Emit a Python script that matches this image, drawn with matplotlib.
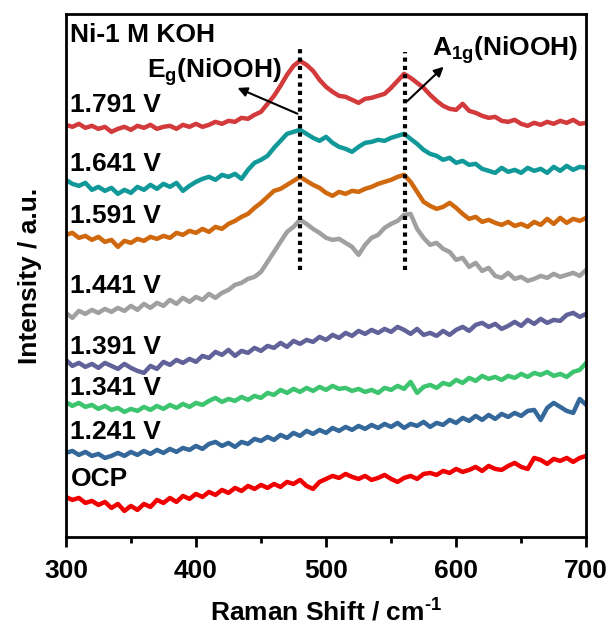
import numpy as np
import matplotlib.pyplot as plt

plt.rcParams['font.family'] = ['Liberation Sans', 'DejaVu Sans']
plt.rcParams['font.weight'] = 'bold'
plt.rcParams['mathtext.fontset'] = 'custom'
plt.rcParams['mathtext.rm'] = 'Liberation Sans:bold'
plt.rcParams['mathtext.it'] = 'Liberation Sans:bold'
plt.rcParams['mathtext.bf'] = 'Liberation Sans:bold'

# Raman shift, cm-1 (every 5 cm-1)
shift = np.arange(300, 701, 5)

# stacked spectra (a.u., already offset)
v1791 = [412, 410, 413, 409, 411, 408, 410, 405, 408, 410, 407, 411, 409, 412, 408, 410, 411, 408, 412, 410,
         413, 410, 412, 415, 413, 416, 415, 419, 418, 422, 425, 433, 441, 451, 462, 471, 476, 472, 466, 457,
         450, 445, 441, 440, 437, 434, 438, 439, 441, 443, 449, 456, 463, 459, 454, 449, 442, 436, 431, 428,
         427, 433, 426, 424, 421, 419, 420, 416, 415, 417, 413, 411, 414, 412, 415, 413, 416, 414, 417, 413, 414]
v1641 = [357, 353, 351, 354, 347, 350, 346, 349, 343, 347, 344, 350, 347, 352, 348, 353, 350, 354, 346, 351,
         355, 358, 360, 357, 362, 360, 363, 358, 367, 374, 377, 381, 389, 396, 403, 405, 407, 403, 399, 396,
         400, 394, 390, 388, 385, 390, 394, 395, 397, 396, 399, 401, 403, 398, 393, 387, 383, 381, 377, 379,
         374, 376, 372, 373, 368, 366, 364, 369, 365, 367, 364, 369, 366, 368, 364, 370, 366, 371, 367, 370, 369]
v1591 = [302, 304, 299, 301, 297, 300, 295, 297, 290, 296, 294, 298, 296, 300, 298, 301, 299, 304, 302, 306,
         304, 308, 305, 310, 308, 313, 316, 320, 323, 329, 334, 340, 346, 348, 352, 356, 360, 356, 352, 349,
         344, 341, 345, 343, 346, 345, 348, 350, 353, 355, 357, 360, 362, 355, 345, 335, 331, 328, 330, 334,
         329, 323, 318, 320, 315, 317, 314, 312, 315, 311, 313, 310, 315, 312, 318, 313, 319, 314, 318, 316, 319]
v1441 = [224, 219, 226, 223, 227, 224, 228, 225, 229, 226, 231, 227, 233, 229, 234, 231, 237, 233, 239, 235,
         240, 237, 243, 239, 244, 247, 252, 254, 258, 260, 265, 275, 285, 295, 305, 310, 317, 313, 308, 304,
         299, 297, 298, 294, 290, 282, 292, 299, 302, 309, 313, 316, 322, 323, 308, 299, 292, 294, 288, 285,
         277, 279, 270, 274, 266, 269, 261, 259, 264, 258, 260, 256, 258, 261, 259, 263, 260, 262, 264, 261, 267]
v1391 = [177, 171, 174, 170, 173, 169, 174, 171, 168, 173, 169, 166, 164, 171, 168, 175, 172, 177, 174, 178,
         175, 181, 179, 185, 182, 187, 181, 186, 184, 189, 186, 191, 189, 194, 190, 196, 193, 197, 195, 200,
         197, 202, 199, 204, 201, 206, 203, 207, 204, 208, 205, 210, 207, 203, 208, 202, 204, 201, 206, 202,
         207, 210, 206, 212, 214, 210, 213, 208, 211, 215, 211, 217, 213, 218, 214, 217, 216, 222, 224, 220, 223]
v1341 = [135, 131, 134, 130, 132, 128, 131, 127, 129, 125, 128, 126, 130, 127, 131, 128, 132, 129, 133, 130,
         134, 132, 136, 139, 135, 138, 136, 140, 137, 141, 139, 144, 142, 147, 144, 148, 145, 149, 146, 150,
         147, 151, 148, 149, 146, 148, 145, 147, 144, 149, 147, 151, 148, 155, 144, 150, 152, 149, 154, 152,
         157, 154, 159, 156, 161, 158, 160, 157, 161, 159, 163, 160, 164, 162, 165, 161, 163, 160, 165, 167, 174]
v1241 = [84, 86, 82, 85, 81, 83, 79, 81, 84, 81, 85, 82, 86, 83, 87, 84, 88, 85, 89, 87,
         91, 88, 93, 95, 91, 94, 90, 95, 93, 98, 96, 100, 97, 102, 99, 104, 101, 106, 103, 107,
         104, 109, 106, 110, 107, 111, 108, 112, 109, 113, 110, 114, 109, 113, 111, 115, 110, 114, 112, 117,
         114, 119, 116, 121, 117, 122, 118, 123, 120, 124, 121, 126, 127, 117, 129, 134, 130, 126, 124, 138, 132]
ocp = [40, 37, 39, 34, 36, 32, 35, 29, 33, 26, 31, 27, 33, 30, 37, 34, 39, 35, 41, 38,
       43, 40, 45, 42, 47, 44, 49, 46, 51, 48, 52, 49, 53, 50, 55, 53, 57, 51, 48, 55,
       58, 61, 59, 63, 60, 58, 61, 57, 59, 62, 58, 55, 59, 61, 58, 63, 64, 62, 66, 64,
       68, 65, 67, 70, 66, 71, 68, 67, 71, 74, 70, 68, 79, 77, 73, 78, 76, 79, 75, 79, 81]

spectra = [v1791, v1641, v1591, v1441, v1391, v1341, v1241, ocp]
labels = ['1.791 V', '1.641 V', '1.591 V', '1.441 V', '1.391 V', '1.341 V', '1.241 V', 'OCP']
label_y = [432, 373, 321, 251, 190, 149, 105, 58]
colors = ['#D23A3C', '#11999A', '#D0680E', '#A0A0A0', '#62629A', '#3CC46E', '#34689A', '#F00000']

for s in spectra:
    if len(s) != len(shift):
        raise ValueError('bad length')

fig = plt.figure(figsize=(6.10, 6.28), dpi=100)
ax = fig.add_axes([0.108, 0.145, 0.853, 0.833])

for s, c in zip(spectra, colors):
    ax.plot(shift, s, color=c, lw=3.2, solid_joinstyle='round')

for lab, y in zip(labels, label_y):
    ax.text(303.5, y, lab, fontsize=19, fontweight='bold', va='center', ha='left')
ax.text(303.5, 502, 'Ni-1 M KOH', fontsize=19, fontweight='bold', va='center', ha='left')

# peak markers
ax.plot([480, 480], [267, 492], color='black', lw=3, linestyle=(0, (1, 1)))
ax.plot([561, 561], [267, 485], color='black', lw=3, linestyle=(0, (1, 1)))

ax.annotate('', xy=(430, 450), xytext=(480, 422),
            arrowprops=dict(arrowstyle='-|>', color='black', lw=1.5, mutation_scale=14))
ax.annotate('', xy=(592, 472), xytext=(561, 434),
            arrowprops=dict(arrowstyle='-|>', color='black', lw=1.5, mutation_scale=14))
ax.text(414, 465, r'E$_{g}$(NiOOH)', fontsize=19, ha='center', va='center')
ax.text(638, 487, r'A$_{1g}$(NiOOH)', fontsize=19, ha='center', va='center')

ax.set_xlim(300, 700)
ax.set_ylim(0, 523)
ax.set_xticks([300, 400, 500, 600, 700])
ax.set_xticks([350, 450, 550, 650], minor=True)
ax.set_yticks([])
ax.tick_params(axis='x', which='major', direction='out', length=7, width=2, labelsize=19, pad=9)
ax.tick_params(axis='x', which='minor', direction='out', length=4.5, width=2)
for lab in ax.get_xticklabels():
    lab.set_fontweight('bold')
for sp in ax.spines.values():
    sp.set_linewidth(2)

ax.set_xlabel(r'Raman Shift / cm$^{\text{-}1}$', fontsize=19, fontweight='bold', labelpad=11)
ax.set_ylabel('Intensity / a.u.', fontsize=19, fontweight='bold', labelpad=17)

plt.savefig('out.png', dpi=100)
